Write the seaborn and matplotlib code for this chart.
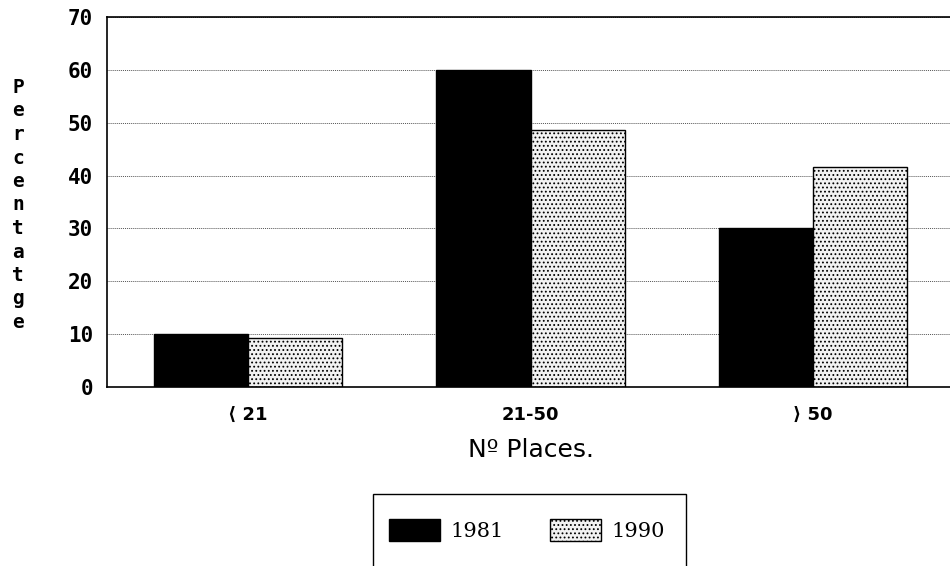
import matplotlib
matplotlib.use("Agg")
import matplotlib.pyplot as plt
import seaborn as sns
import pandas as pd
from matplotlib.patches import Patch, Rectangle

categories = ["\u27e8 21", "21-50", "\u27e9 50"]
years = ["1981", "1990"]
values_1981 = [10, 60, 30]
values_1990 = [9.3, 48.6, 41.6]
yticks = [0, 10, 20, 30, 40, 50, 60, 70]

df = pd.DataFrame({
    "cat": categories * 2,
    "year": ["1981"] * 3 + ["1990"] * 3,
    "val": values_1981 + values_1990,
})

sns.set_style("white")
plt.rcParams['font.family'] = ['DejaVu Sans']
plt.rcParams['hatch.color'] = '#808080'
plt.rcParams['hatch.linewidth'] = 0.8
plt.rcParams['text.color'] = 'black'

fig = plt.figure(figsize=(9.5, 5.66), dpi=100)
ax = fig.add_axes([107/950, 1-387/566, 847/950, 370/566])

sns.barplot(data=df, x="cat", y="val", hue="year", order=categories,
            hue_order=years, palette={"1981": "black", "1990": "white"},
            width=0.667, ax=ax, legend=False, edgecolor="black", linewidth=1.0,
            saturation=1)

for p in ax.patches:
    if p.get_facecolor()[0] > 0.5:
        p.set_hatch('....')
        p.set_edgecolor('black')
        p.set_facecolor('#f2f2f2')

ax.set_ylim(0, 70)
ax.set_xlim(-0.5, 2.5)
ax.set_yticks(yticks)
ax.set_yticklabels([str(v) for v in yticks], fontsize=15, fontweight='bold',
                   family='DejaVu Sans Mono', color='black')
ax.tick_params(axis='y', direction='in', length=6, width=1.5, pad=10, colors='black')
ax.tick_params(axis='x', length=0, pad=14, labelsize=13, labelcolor='black')
for lbl in ax.get_xticklabels():
    lbl.set_fontweight('bold')
ax.yaxis.grid(True, linestyle=(0, (1, 1)), color='#555555', linewidth=0.7)
ax.set_axisbelow(True)
for s in ax.spines.values():
    s.set_color('black')
    s.set_linewidth(1.2)

ax.set_xlabel("N\u00ba Places.", fontsize=18, labelpad=10, color='black')
ax.set_ylabel("")

fig.text(18/950, 1-205/566, "P\ne\nr\nc\ne\nn\nt\na\nt\ng\ne", ha='center', va='center',
         fontsize=14, fontweight='bold', family='DejaVu Sans Mono', linespacing=1.3,
         color='black')

# legend box
fig.patches.append(Rectangle((373/950, -0.05), (686-373)/950, (1-494/566)+0.05,
                             transform=fig.transFigure, fill=False,
                             edgecolor='black', linewidth=1.0))
handles = [Patch(facecolor='black', edgecolor='black', label='1981'),
           Patch(facecolor='#f2f2f2', edgecolor='black', hatch='....', label='1990')]
fig.legend(handles=handles, loc='center', bbox_to_anchor=(527/950, 1-530/566),
           ncol=2, frameon=False, handlelength=2.45, handleheight=1.2,
           handletextpad=0.5, columnspacing=2.2, labelcolor='black',
           prop={'family': 'DejaVu Serif', 'size': 15})

fig.savefig("out.png", dpi=100)
